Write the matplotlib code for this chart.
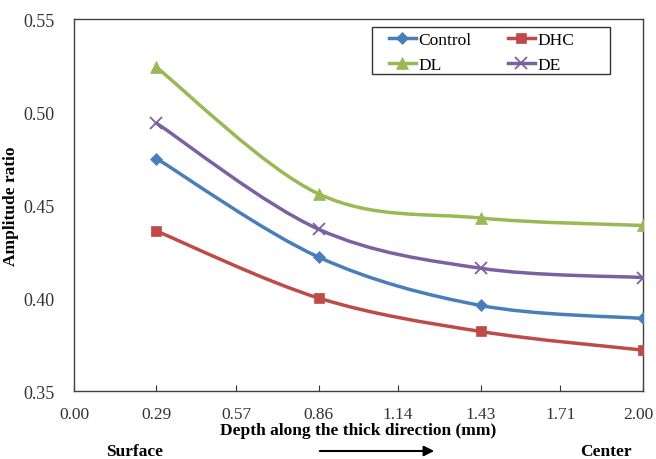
import numpy as np
import matplotlib
matplotlib.use("Agg")
import matplotlib.pyplot as plt
from matplotlib.path import Path
from matplotlib.patches import PathPatch, FancyArrowPatch, Rectangle
from matplotlib.transforms import ScaledTranslation

plt.rcParams['font.family'] = ['Liberation Serif', 'DejaVu Serif']

depth = [0.29, 0.86, 1.43, 2.00]
control = [0.475, 0.422, 0.396, 0.389]
dhc = [0.436, 0.400, 0.382, 0.372]
dl = [0.524, 0.456, 0.443, 0.439]
de = [0.494, 0.437, 0.416, 0.411]
xticks = [0.00, 0.29, 0.57, 0.86, 1.14, 1.43, 1.71, 2.00]
xticklabels = ["0.00", "0.29", "0.57", "0.86", "1.14", "1.43", "1.71", "2.00"]
yticks = [0.35, 0.40, 0.45, 0.50, 0.55]

series = [
    ("Control", control, "#4A7EBB", "D", 6),
    ("DHC", dhc, "#BE4B48", "s", 7),
    ("DL", dl, "#98B954", "^", 8),
    ("DE", de, "#7D60A0", "x", 8),
]

fig = plt.figure(figsize=(6.56, 4.6), dpi=100)
ax = fig.add_axes([0.1128, 0.1478, 0.867, 0.8087])


def smooth_path(x, y):
    pts = np.column_stack([x, y])
    n = len(pts)
    verts = [pts[0]]
    codes = [Path.MOVETO]
    for i in range(n - 1):
        p0 = pts[i - 1] if i > 0 else pts[i]
        p1 = pts[i]
        p2 = pts[i + 1]
        p3 = pts[i + 2] if i + 2 < n else pts[i + 1]
        c1 = p1 + (p2 - p0) / 6.0
        c2 = p2 - (p3 - p1) / 6.0
        verts += [c1, c2, p2]
        codes += [Path.CURVE4] * 3
    return Path(verts, codes)


handles = []
for name, vals, col, mk, ms in series:
    ax.add_patch(PathPatch(smooth_path(depth, vals), facecolor='none',
                           edgecolor=col, lw=2.5, zorder=2))
    mew = 1.3 if mk == 'x' else 0.5
    ax.plot(depth, vals, linestyle='none', marker=mk, color=col, ms=ms,
            mew=mew, zorder=3)
    h, = ax.plot([], [], color=col, lw=2.5, marker=mk, ms=ms, mew=mew, label=name)
    handles.append(h)

ax.set_xlim(0, 2.0)
ax.set_ylim(0.35, 0.55)
ax.set_xticks(xticks)
ax.set_xticklabels(xticklabels)
ax.set_yticks(yticks)
ax.set_yticklabels([f"{v:.2f}" for v in yticks])
ax.tick_params(axis='x', direction='in', length=4, labelsize=12.5, pad=11, colors='#333333')
ax.tick_params(axis='y', direction='out', length=0, labelsize=13, pad=14, colors='#333333')
last = ax.get_xticklabels()[-1]
last.set_transform(last.get_transform() + ScaledTranslation(-3 / 72, 0, fig.dpi_scale_trans))
for s in ax.spines.values():
    s.set_color('#404040')
    s.set_linewidth(1.0)

ax.set_xlabel("Depth along the thick direction (mm)", fontsize=12.5, fontweight='bold', labelpad=0)
ax.set_ylabel("Amplitude ratio", fontsize=12.5, fontweight='bold')
ax.yaxis.set_label_coords(-0.097, 0.5)


def axc(px, py):
    return ((px - 74) / 569, (392 - py) / 372)


leg = ax.legend([handles[0], handles[2], handles[1], handles[3]],
                ["Control", "DL", "DHC", "DE"], ncol=2, loc='upper left',
                bbox_to_anchor=axc(389, 33), fontsize=12.5, frameon=False,
                handlelength=1.55, handletextpad=0.15, columnspacing=2.1,
                borderpad=0, borderaxespad=0, labelspacing=0.5)
x0, y0 = axc(372, 75)
x1, y1 = axc(610, 28)
ax.add_patch(Rectangle((x0, y0), x1 - x0, y1 - y0, transform=ax.transAxes,
                       facecolor='white', edgecolor='#333333', lw=1.0, zorder=4))
leg.set_zorder(5)

fig.text(135 / 656, 1 - 452 / 460, "Surface", fontsize=12.5, fontweight='bold',
         ha='center', va='center')
fig.text(606 / 656, 1 - 452 / 460, "Center", fontsize=12.5, fontweight='bold',
         ha='center', va='center')
arr = FancyArrowPatch((317 / 656, 1 - 452 / 460), (437 / 656, 1 - 452 / 460),
                      transform=fig.transFigure, arrowstyle='-|>,head_length=6,head_width=3',
                      color='black', lw=1.5, mutation_scale=1)
fig.patches.append(arr)

fig.savefig("out.png", dpi=100)
